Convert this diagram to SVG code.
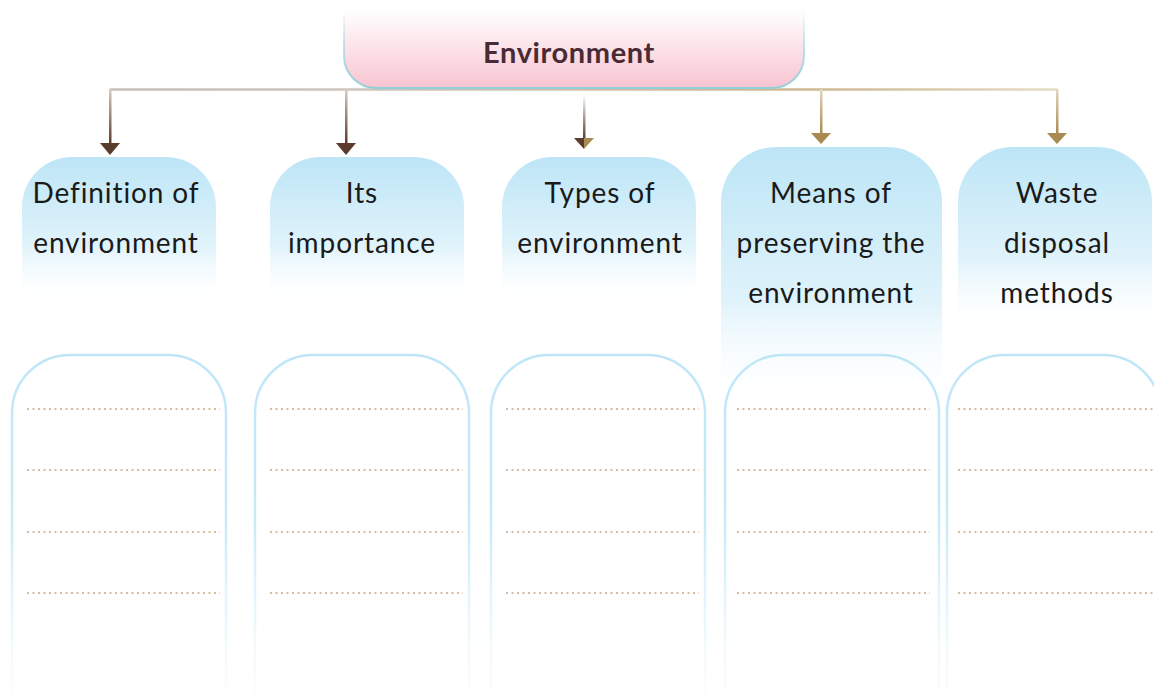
<svg xmlns="http://www.w3.org/2000/svg" width="1154" height="692" viewBox="0 0 1154 692">
<defs>
<linearGradient id="gTop" x1="0" y1="0" x2="0" y2="1">
<stop offset="0" stop-color="#ffffff"/>
<stop offset="1" stop-color="#f8c4d1"/>
</linearGradient>
<linearGradient id="gTopStroke" x1="0" y1="0" x2="0" y2="1">
<stop offset="0" stop-color="#9fd6df" stop-opacity="0"/>
<stop offset="0.5" stop-color="#9fd6df" stop-opacity="0.7"/>
<stop offset="1" stop-color="#8ecfd9"/>
</linearGradient>
<linearGradient id="gHead" x1="0" y1="0" x2="0" y2="1">
<stop offset="0" stop-color="#bde5f6"/>
<stop offset="0.6" stop-color="#e0f3fb"/>
<stop offset="1" stop-color="#ffffff" stop-opacity="0"/>
</linearGradient>
<linearGradient id="gBox" x1="0" y1="0" x2="0" y2="1">
<stop offset="0" stop-color="#bfe6f8"/>
<stop offset="0.5" stop-color="#c8eaf9"/>
<stop offset="1" stop-color="#e6f5fc" stop-opacity="0.2"/>
</linearGradient>
<linearGradient id="gHLine" x1="110" y1="0" x2="1057" y2="0" gradientUnits="userSpaceOnUse">
<stop offset="0" stop-color="#c9bdb5"/>
<stop offset="0.3" stop-color="#cfc5bd"/>
<stop offset="0.75" stop-color="#cdb993"/>
<stop offset="1" stop-color="#e6dcc8"/>
</linearGradient>
<linearGradient id="gVDark" x1="0" y1="0" x2="0" y2="1">
<stop offset="0" stop-color="#d6ccc4"/>
<stop offset="1" stop-color="#5a3b2c"/>
</linearGradient>
<linearGradient id="gVMid" x1="0" y1="0" x2="0" y2="1">
<stop offset="0" stop-color="#ffffff"/>
<stop offset="1" stop-color="#5a3b2c"/>
</linearGradient>
<linearGradient id="gVTan" x1="0" y1="0" x2="0" y2="1">
<stop offset="0" stop-color="#e2d6bd"/>
<stop offset="1" stop-color="#a88a52"/>
</linearGradient>
<linearGradient id="gHeadMid" x1="0" y1="0" x2="1" y2="0">
<stop offset="0.5" stop-color="#5a3b2c"/>
<stop offset="0.5" stop-color="#a88a52"/>
</linearGradient>
</defs>
<style>
.lbl{font-family:"Lato","Open Sans","DejaVu Sans",sans-serif;font-size:28px;letter-spacing:0.9px;fill:#1a1a1a;text-anchor:middle;font-variant-ligatures:none}
.title{font-family:"Lato","Open Sans","DejaVu Sans",sans-serif;font-size:29px;letter-spacing:0.6px;font-weight:bold;fill:#4a2b33;text-anchor:middle}
.head{fill:url(#gHead)}
.box{fill:none;stroke:url(#gBox);stroke-width:2.5}
.dot{stroke:#d4bc9c;stroke-width:2;stroke-dasharray:2 3.5}
.ahd{fill:#5a3b2c}
.aht{fill:#a88a52}
</style>

<g id="connectors">
<line x1="110" y1="89.5" x2="1057" y2="89.5" stroke="url(#gHLine)" stroke-width="2.5"/>
<rect x="109" y="89" width="2.5" height="55" fill="url(#gVDark)"/>
<polygon class="ahd" points="100,143 120,143 110,155"/>
<rect x="345" y="89" width="2.5" height="55" fill="url(#gVDark)"/>
<polygon class="ahd" points="336,143 356,143 346,155"/>
<rect x="583" y="95" width="2.5" height="44" fill="url(#gVMid)"/>
<polygon fill="url(#gHeadMid)" points="574,138 594,138 584,149"/>
<rect x="820" y="89" width="2.5" height="45" fill="url(#gVTan)"/>
<polygon class="aht" points="811,133 831,133 821,144"/>
<rect x="1056" y="89" width="2.5" height="45" fill="url(#gVTan)"/>
<polygon class="aht" points="1047,133 1067,133 1057,144"/>
</g>

<g id="root">
<path d="M344,10 V56 A32 32 0 0 0 376,88 H772 A32 32 0 0 0 804,56 V10 Z" fill="url(#gTop)"/>
<path d="M344,10 V56 A32 32 0 0 0 376,88 H772 A32 32 0 0 0 804,56 V10" fill="none" stroke="url(#gTopStroke)" stroke-width="2"/>
<text class="title" x="569" y="63">Environment</text>
</g>

<g id="node1">
<path class="head" d="M22,305 V207 A50 50 0 0 1 72,157 H166 A50 50 0 0 1 216,207 V305 Z"/>
<text class="lbl" x="116" y="203">Definition of</text>
<text class="lbl" x="116" y="253">environment</text>
<path class="box" d="M12,692 V413 A58 58 0 0 1 70,355 H168 A58 58 0 0 1 226,413 V692"/>
<line class="dot" x1="27" y1="409" x2="220" y2="409"/>
<line class="dot" x1="27" y1="470" x2="220" y2="470"/>
<line class="dot" x1="27" y1="532" x2="220" y2="532"/>
<line class="dot" x1="27" y1="593" x2="220" y2="593"/>
</g>

<g id="node2">
<path class="head" d="M270,305 V207 A50 50 0 0 1 320,157 H414 A50 50 0 0 1 464,207 V305 Z"/>
<text class="lbl" x="362" y="203">Its</text>
<text class="lbl" x="362" y="253">importance</text>
<path class="box" d="M255,692 V413 A58 58 0 0 1 313,355 H411 A58 58 0 0 1 469,413 V692"/>
<line class="dot" x1="270" y1="409" x2="463" y2="409"/>
<line class="dot" x1="270" y1="470" x2="463" y2="470"/>
<line class="dot" x1="270" y1="532" x2="463" y2="532"/>
<line class="dot" x1="270" y1="593" x2="463" y2="593"/>
</g>

<g id="node3">
<path class="head" d="M502,305 V207 A50 50 0 0 1 552,157 H646 A50 50 0 0 1 696,207 V305 Z"/>
<text class="lbl" x="600" y="203">Types of</text>
<text class="lbl" x="600" y="253">environment</text>
<path class="box" d="M491,692 V413 A58 58 0 0 1 549,355 H647 A58 58 0 0 1 705,413 V692"/>
<line class="dot" x1="506" y1="409" x2="699" y2="409"/>
<line class="dot" x1="506" y1="470" x2="699" y2="470"/>
<line class="dot" x1="506" y1="532" x2="699" y2="532"/>
<line class="dot" x1="506" y1="593" x2="699" y2="593"/>
</g>

<g id="node4">
<path class="head" d="M721,405 V202 A55 55 0 0 1 776,147 H887 A55 55 0 0 1 942,202 V405 Z"/>
<text class="lbl" x="831" y="203">Means of</text>
<text class="lbl" x="831" y="253">preserving the</text>
<text class="lbl" x="831" y="303">environment</text>
<path class="box" d="M725,692 V413 A58 58 0 0 1 783,355 H881 A58 58 0 0 1 939,413 V692"/>
<line class="dot" x1="737" y1="409" x2="930" y2="409"/>
<line class="dot" x1="737" y1="470" x2="930" y2="470"/>
<line class="dot" x1="737" y1="532" x2="930" y2="532"/>
<line class="dot" x1="737" y1="593" x2="930" y2="593"/>
</g>

<g id="node5">
<path class="head" d="M958,335 V202 A55 55 0 0 1 1013,147 H1097 A55 55 0 0 1 1152,202 V335 Z"/>
<text class="lbl" x="1057" y="203">Waste</text>
<text class="lbl" x="1057" y="253">disposal</text>
<text class="lbl" x="1057" y="303">methods</text>
<path class="box" d="M947,692 V413 A58 58 0 0 1 1005,355 H1103 A58 58 0 0 1 1161,413 V692"/>
<line class="dot" x1="958" y1="409" x2="1154" y2="409"/>
<line class="dot" x1="958" y1="470" x2="1154" y2="470"/>
<line class="dot" x1="958" y1="532" x2="1154" y2="532"/>
<line class="dot" x1="958" y1="593" x2="1154" y2="593"/>
</g>
</svg>
